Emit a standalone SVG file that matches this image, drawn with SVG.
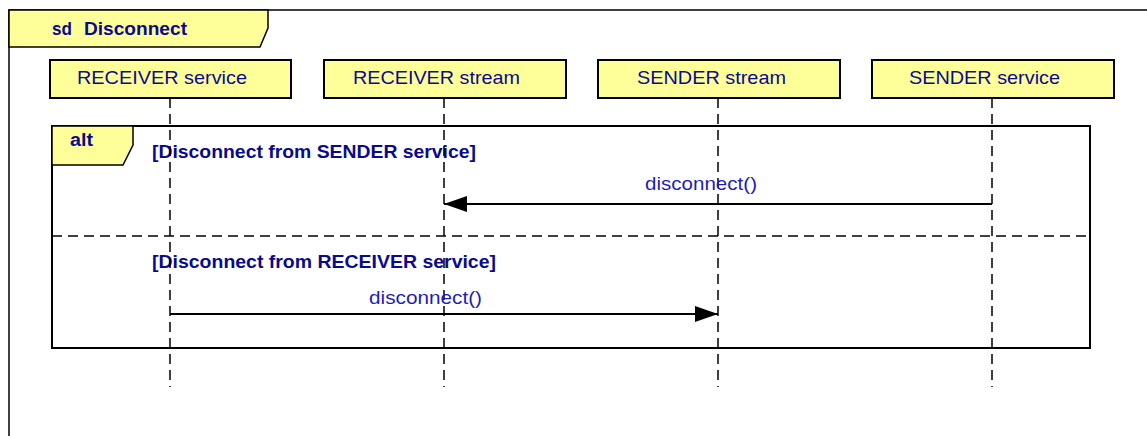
<svg xmlns="http://www.w3.org/2000/svg" width="1147" height="436" viewBox="0 0 1147 436">
<style>
.frame{fill:none;stroke:#000;stroke-width:1.5}
.tab{fill:#FFFF99;stroke:#000;stroke-width:1.5}
.box{fill:#FFFF99;stroke:#000;stroke-width:2}
.name{font-family:"Liberation Sans",Arial,sans-serif;font-size:19px;fill:#0A0A8C;text-anchor:middle}
.bold{font-family:"Liberation Sans",Arial,sans-serif;font-size:18px;font-weight:bold;fill:#0A0A8C}
.msgl{font-family:"Liberation Sans",Arial,sans-serif;font-size:19px;fill:#1E1EB4;text-anchor:middle}
.life{stroke:#000;stroke-width:1.5;stroke-dasharray:10,6}
.msg{stroke:#000;stroke-width:2;fill:none}
</style>
<defs>
<marker id="arr" markerWidth="24" markerHeight="18" refX="23" refY="9" orient="auto" markerUnits="userSpaceOnUse">
<path d="M0,1 L23,9 L0,17 Z" fill="#000"/>
</marker>
</defs>
<rect width="1147" height="436" fill="#fff"/>
<g id="frame">
<path d="M1147,10 L9,10 L9,436" fill="none" stroke="#000" stroke-width="1.5"/>
<path class="tab" d="M9,10 L268,10 L268,28 L260,47 L9,47 Z"/>
<text class="bold" y="35"><tspan x="52" textLength="20" lengthAdjust="spacingAndGlyphs">sd</tspan><tspan x="84" textLength="103" lengthAdjust="spacingAndGlyphs">Disconnect</tspan></text>
</g>
<g id="alt">
<rect x="52" y="126" width="1038" height="222" fill="none" stroke="#000" stroke-width="2"/>
<path class="tab" d="M52,126 L133,126 L133,145 L123,165 L52,165 Z"/>
<text class="bold" x="70" y="146" textLength="23" lengthAdjust="spacingAndGlyphs">alt</text>
<text class="bold" x="152" y="158" textLength="324" lengthAdjust="spacingAndGlyphs">[Disconnect from SENDER service]</text>
<line x1="52" y1="236" x2="1090" y2="236" class="life"/>
<text class="bold" x="152" y="268" textLength="344" lengthAdjust="spacingAndGlyphs">[Disconnect from RECEIVER service]</text>
</g>
<g id="lifelines">
<line class="life" x1="170" y1="98" x2="170" y2="387"/>
<line class="life" x1="444" y1="98" x2="444" y2="387"/>
<line class="life" x1="718" y1="98" x2="718" y2="387"/>
<line class="life" x1="992" y1="98" x2="992" y2="387"/>
</g>
<g id="receiver-service">
<rect class="box" x="50" y="60" width="241" height="38"/>
<text class="name" x="162" y="84" textLength="170" lengthAdjust="spacingAndGlyphs">RECEIVER service</text>
</g>
<g id="receiver-stream">
<rect class="box" x="324" y="60" width="242" height="38"/>
<text class="name" x="436.5" y="84" textLength="167" lengthAdjust="spacingAndGlyphs">RECEIVER stream</text>
</g>
<g id="sender-stream">
<rect class="box" x="598" y="60" width="242" height="38"/>
<text class="name" x="711.5" y="84" textLength="149" lengthAdjust="spacingAndGlyphs">SENDER stream</text>
</g>
<g id="sender-service">
<rect class="box" x="872" y="60" width="242" height="38"/>
<text class="name" x="984.5" y="84" textLength="151" lengthAdjust="spacingAndGlyphs">SENDER service</text>
</g>
<g id="connectors">
<line class="msg" x1="992" y1="204" x2="444" y2="204" marker-end="url(#arr)"/>
<text class="msgl" x="701" y="190" textLength="112" lengthAdjust="spacingAndGlyphs">disconnect()</text>
<line class="msg" x1="170" y1="314" x2="718" y2="314" marker-end="url(#arr)"/>
<text class="msgl" x="425.5" y="304" textLength="113" lengthAdjust="spacingAndGlyphs">disconnect()</text>
</g>
</svg>
